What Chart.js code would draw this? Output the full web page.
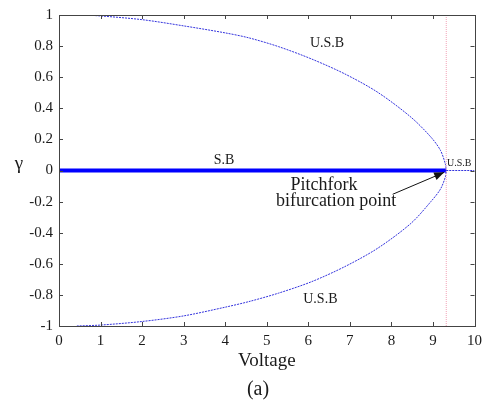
<!DOCTYPE html>
<html>
<head>
<meta charset="utf-8">
<script src="https://cdn.jsdelivr.net/npm/chart.js@4/dist/chart.umd.min.js"></script>
<style>
  html, body { margin: 0; padding: 0; background: #ffffff; }
  #wrap { width: 488px; height: 403px; position: relative; }
</style>
</head>
<body>
<div id="wrap"><canvas id="c"></canvas></div>
<script>
// Bifurcation diagram: gamma versus applied voltage
const bifurcationVoltage = 9.32;

// stable trivial branch (S.B) and unstable trivial branch (U.S.B)
const stableV = [0, bifurcationVoltage];
const stableGamma = [0, 0];
const unstableTrivialV = [bifurcationVoltage, 10];
const unstableTrivialGamma = [0, 0];

// unstable non-trivial branches (U.S.B)
const upperV =     [0.58, 1.0,   2.0,  3.0,  4.0,   4.57,  5.29,  6.08,  6.88,  7.67,  8.47,  8.95,  9.18, 9.30, 9.32];
const upperGamma = [1.0,  0.994, 0.97, 0.93, 0.885, 0.853, 0.796, 0.717, 0.621, 0.503, 0.343, 0.215, 0.13, 0.04, 0];
const lowerV =     [0.43, 1.0,    2.0,    3.0,    4.0,    4.57,   5.28,   6.08,   6.88,   7.67,  8.47,  8.95,  9.18,  9.30,  9.32];
const lowerGamma = [-1.0, -0.994, -0.971, -0.935, -0.879, -0.843, -0.789, -0.715, -0.618, -0.50, -0.34, -0.20, -0.12, -0.04, 0];

// critical voltage marker
const markerV = [bifurcationVoltage, bifurcationVoltage];
const markerGamma = [-1, 1];

// axis ticks
const xTicks = [0, 1, 2, 3, 4, 5, 6, 7, 8, 9, 10];
const xTickLabels = ['0', '1', '2', '3', '4', '5', '6', '7', '8', '9', '10'];
const yTicks = [-1, -0.8, -0.6, -0.4, -0.2, 0, 0.2, 0.4, 0.6, 0.8, 1];
const yTickLabels = ['-1', '-0.8', '-0.6', '-0.4', '-0.2', '0', '0.2', '0.4', '0.6', '0.8', '1'];

const xTitle = 'Voltage';
const yTitle = 'γ';
const caption = '(a)';

const pts = (xs, ys) => xs.map((x, i) => ({ x: x, y: ys[i] }));

const SERIF = '"Liberation Serif", "Times New Roman", serif';
const INK = '#1a1a1a';

// frame, inner tick marks, annotations and axis titles
const decorations = {
  id: 'decorations',
  afterDatasetsDraw(chart) {
    const ctx = chart.ctx;
    const xs = chart.scales.x, ys = chart.scales.y;
    const a = chart.chartArea;
    const px = v => xs.getPixelForValue(v);
    const py = v => ys.getPixelForValue(v);
    ctx.save();

    // box frame
    ctx.strokeStyle = '#444444';
    ctx.lineWidth = 1;
    ctx.strokeRect(Math.round(a.left) + 0.5, Math.round(a.top) + 0.5,
                   Math.round(a.right - a.left), Math.round(a.bottom - a.top));

    // inward ticks
    const tl = 4;
    ctx.beginPath();
    xTicks.forEach(v => {
      const x = Math.round(px(v)) + 0.5;
      ctx.moveTo(x, a.bottom); ctx.lineTo(x, a.bottom - tl);
      ctx.moveTo(x, a.top); ctx.lineTo(x, a.top + tl);
    });
    yTicks.forEach(v => {
      const y = Math.round(py(v)) + 0.5;
      ctx.moveTo(a.left, y); ctx.lineTo(a.left + tl, y);
      ctx.moveTo(a.right, y); ctx.lineTo(a.right - tl, y);
    });
    ctx.stroke();

    // branch labels
    ctx.fillStyle = INK;
    ctx.textBaseline = 'middle';
    ctx.textAlign = 'center';
    ctx.font = '14px ' + SERIF;
    ctx.fillText('U.S.B', px(6.45), py(0.82));
    ctx.fillText('U.S.B', px(6.29), py(-0.83));
    ctx.fillText('S.B', px(3.97), py(0.065));
    ctx.textAlign = 'left';
    ctx.font = '10px ' + SERIF;
    ctx.fillText('U.S.B', px(9.34), py(0.046));

    // pitchfork annotation
    ctx.textAlign = 'center';
    ctx.font = '18px ' + SERIF;
    ctx.fillText('Pitchfork', px(6.38), py(-0.095));
    ctx.fillText('bifurcation point', px(6.67), py(-0.198));

    // arrow to the bifurcation point
    const x0 = px(8.03), y0 = py(-0.153);
    const x1 = px(9.27), y1 = py(-0.012);
    ctx.strokeStyle = '#111111';
    ctx.lineWidth = 1;
    ctx.beginPath();
    ctx.moveTo(x0, y0); ctx.lineTo(x1, y1);
    ctx.stroke();
    const ang = Math.atan2(y1 - y0, x1 - x0);
    const hl = 10, hw = 4;
    ctx.fillStyle = '#111111';
    ctx.beginPath();
    ctx.moveTo(x1, y1);
    ctx.lineTo(x1 - hl * Math.cos(ang) + hw * Math.sin(ang), y1 - hl * Math.sin(ang) - hw * Math.cos(ang));
    ctx.lineTo(x1 - hl * Math.cos(ang) - hw * Math.sin(ang), y1 - hl * Math.sin(ang) + hw * Math.cos(ang));
    ctx.closePath();
    ctx.fill();

    // axis titles and caption
    ctx.fillStyle = INK;
    ctx.textAlign = 'center';
    ctx.font = '19px ' + SERIF;
    ctx.fillText(xTitle, (a.left + a.right) / 2, 361);
    ctx.fillText(yTitle, 19, py(0.04));
    ctx.font = '20px ' + SERIF;
    ctx.fillText(caption, 258, 390);
    ctx.restore();
  }
};

const thinDash = {
  showLine: true, pointRadius: 0, borderWidth: 1,
  borderColor: '#3333dd', borderDash: [2, 1], tension: 0.3, fill: false
};

new Chart(document.getElementById('c'), {
  type: 'scatter',
  data: {
    datasets: [
      Object.assign({}, thinDash, {
        data: pts(markerV, markerGamma), borderColor: '#f2a2b6',
        borderDash: [1, 1], tension: 0
      }),
      Object.assign({}, thinDash, { data: pts(upperV, upperGamma) }),
      Object.assign({}, thinDash, { data: pts(lowerV, lowerGamma) }),
      Object.assign({}, thinDash, { data: pts(unstableTrivialV, unstableTrivialGamma), tension: 0 }),
      {
        data: pts(stableV, stableGamma), showLine: true, pointRadius: 0,
        borderWidth: 4, borderColor: '#0000ff', tension: 0
      }
    ]
  },
  options: {
    responsive: true,
    maintainAspectRatio: false,
    animation: false,
    events: [],
    layout: { padding: { top: 14, right: 10, bottom: 0, left: 0 } },
    plugins: { legend: { display: false }, tooltip: { enabled: false } },
    scales: {
      x: {
        type: 'linear', min: 0, max: 10,
        grid: { display: false, drawTicks: false }, border: { display: false },
        afterBuildTicks: s => { s.ticks = xTicks.map(v => ({ value: v })); },
        afterFit: s => { s.height = 77; },
        ticks: {
          padding: 6, color: INK, maxRotation: 0, autoSkip: false,
          font: { family: SERIF, size: 15 },
          callback: (v) => xTickLabels[xTicks.indexOf(v)]
        }
      },
      y: {
        type: 'linear', min: -1, max: 1,
        grid: { display: false, drawTicks: false }, border: { display: false },
        afterBuildTicks: s => { s.ticks = yTicks.map(v => ({ value: v })); },
        afterFit: s => { s.width = 59; },
        ticks: {
          padding: 6, color: INK, autoSkip: false,
          font: { family: SERIF, size: 15 },
          callback: (v) => {
            const i = yTicks.findIndex(t => Math.abs(t - v) < 1e-9);
            return i >= 0 ? yTickLabels[i] : '';
          }
        }
      }
    }
  },
  plugins: [decorations]
});
</script>
</body>
</html>
